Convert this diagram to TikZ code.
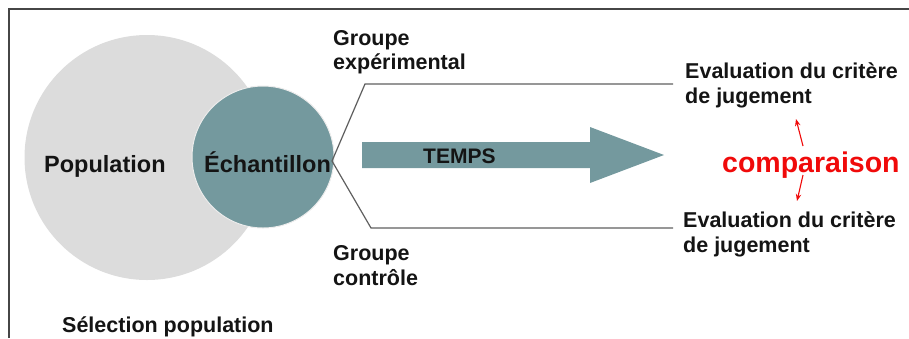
\documentclass[tikz,border=0pt]{standalone}
\usepackage{fontspec}
\setmainfont{Liberation Sans}
\usetikzlibrary{arrows.meta}
\definecolor{tealc}{RGB}{116,153,158}
\definecolor{popgray}{RGB}{220,220,220}
\definecolor{framegray}{RGB}{70,70,70}
\definecolor{linegray}{RGB}{95,95,95}
\definecolor{cmpred}{RGB}{240,10,10}
\definecolor{txt}{RGB}{20,20,20}
\begin{document}
\begin{tikzpicture}[x=1pt,y=-1pt,
  lbl/.style={anchor=base west, inner sep=0pt, text=txt, font=\bfseries\fontsize{21.5}{26}\selectfont},
  biglbl/.style={lbl, font=\bfseries\fontsize{23.5}{28}\selectfont},
  grpline/.style={draw=linegray, line width=1.2pt},
  cmparrow/.style={draw=cmpred, line width=1.1pt, -{Stealth[length=7pt,width=5.5pt]}}]
\useasboundingbox (0,0) rectangle (909,338);
\draw[framegray, line width=2.2pt] (9,338) -- (9,9) -- (909,9);
% circles
\node[circle, fill=popgray, minimum size=245pt, inner sep=0pt] (pop) at (147,157.5) {};
\node[circle, fill=tealc, draw=white!85!gray, line width=1pt, minimum size=142pt, inner sep=0pt] (ech) at (263,157) {};
\node[biglbl] (poptxt) at (44,172) {Population};
\node[biglbl] (echtxt) at (204,172) {Échantillon};
% branching lines
\coordinate (split) at (332,161);
\coordinate (expbend) at (365,84);
\coordinate (expend) at (673,84);
\coordinate (ctlbend) at (371,228);
\coordinate (ctlend) at (673,228);
\draw[grpline] (split) -- (expbend) -- (expend);
\draw[grpline] (split) -- (ctlbend) -- (ctlend);
% time arrow
\fill[tealc] (362,142) -- (590,142) -- (590,127) -- (664,155) -- (590,183) -- (590,168) -- (362,168) -- cycle;
\node[lbl, font=\bfseries\fontsize{21}{25}\selectfont] (temps) at (423,163) {TEMPS};
% groups
\node[lbl] (gexp1) at (333,45) {Groupe};
\node[lbl] (gexp2) at (333,69) {expérimental};
\node[lbl] (gctl1) at (333,260) {Groupe};
\node[lbl] (gctl2) at (333,285) {contrôle};
% evaluations
\node[lbl] (eva1) at (685,78) {Evaluation du critère};
\node[lbl] (eva2) at (685,103) {de jugement};
\node[lbl] (evb1) at (683,227) {Evaluation du critère};
\node[lbl] (evb2) at (683,252) {de jugement};
% comparaison
\node[lbl, text=cmpred, font=\bfseries\fontsize{28.5}{32}\selectfont] (cmp) at (722,172) {comparaison};
\coordinate (upstart) at (803,146);
\coordinate (upend) at (796,119);
\coordinate (dnstart) at (803,175);
\coordinate (dnend) at (797,201);
\draw[cmparrow] (upstart) -- (upend);
\draw[cmparrow] (dnstart) -- (dnend);
% bottom label
\node[lbl] (sel) at (62,332) {Sélection population};
\end{tikzpicture}
\end{document}
